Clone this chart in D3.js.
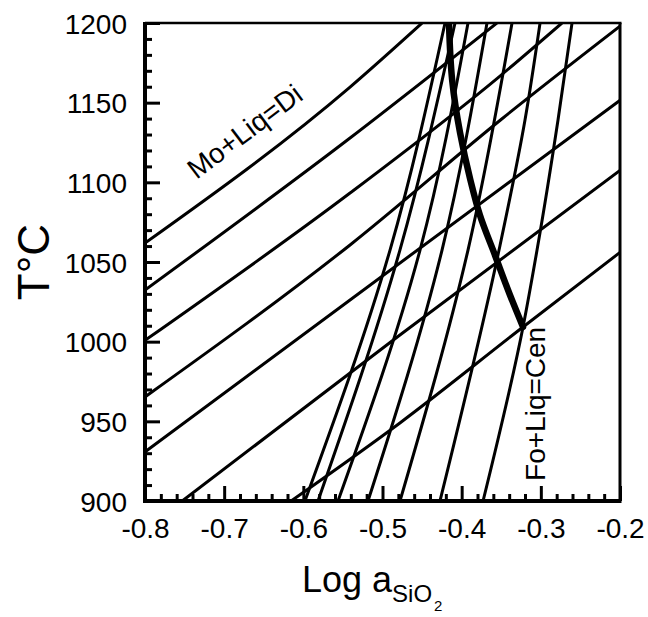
<!DOCTYPE html>
<html>
<head>
<meta charset="utf-8">
<script src="https://cdn.jsdelivr.net/npm/d3@7"></script>
<style>
  html, body { margin: 0; padding: 0; background: #fff; }
  svg { display: block; font-family: "Liberation Sans", Arial, Helvetica, sans-serif; }
</style>
</head>
<body>
<svg id="chart" width="648" height="617"></svg>
<script>
// ---------- data (log aSiO2, T °C) ----------
const xMajorTicks = [-0.8, -0.7, -0.6, -0.5, -0.4, -0.3, -0.2];
const yMajorTicks = [900, 950, 1000, 1050, 1100, 1150, 1200];

// Mo+Liq=Di family (shallow lines)
const di1 = [[-0.8, 1061.9], [-0.541, 1159.8], [-0.45, 1200]];
const di2 = [[-0.8, 1032.4], [-0.541, 1127.8], [-0.3554, 1200]];
const di3 = [[-0.8, 1000.8], [-0.541, 1093.3], [-0.3516, 1166.7], [-0.2733, 1200]];
const di4 = [[-0.8, 965.3], [-0.541, 1060.7], [-0.3478, 1140.4], [-0.2, 1198]];
const di5 = [[-0.8, 930.8], [-0.541, 1026.2], [-0.2, 1151.5]];
const di6 = [[-0.753, 900], [-0.478, 1004.2], [-0.2, 1107.5]];
const di7 = [[-0.6155, 900], [-0.478, 949], [-0.3225, 1009.2], [-0.2, 1056]];

// Fo+Liq=Cen family (steep curves)
const cen1 = [[-0.598, 900], [-0.4905, 1057.5], [-0.421, 1200]];
const cen2 = [[-0.5815, 900], [-0.478, 1057.5], [-0.4084, 1200]];
const cen3 = [[-0.5562, 900], [-0.4526, 1057.5], [-0.392, 1200]];
const cen4 = [[-0.5183, 900], [-0.4248, 1057.5], [-0.368, 1200]];
const cen5 = [[-0.4779, 900], [-0.392, 1057.5], [-0.3364, 1200]];
const cen6 = [[-0.4274, 900], [-0.3528, 1057.5], [-0.32, 1139.1], [-0.301, 1200]];
const cen7 = [[-0.373, 900], [-0.3225, 1009.2], [-0.3048, 1057.5], [-0.2783, 1139.1], [-0.2606, 1200]];

// heavy univariant curve
const heavy = [[-0.416, 1200], [-0.412, 1164.2], [-0.402, 1131], [-0.389, 1101.5],
               [-0.377, 1079.5], [-0.358, 1054.4], [-0.339, 1029.3], [-0.3225, 1009.2]];

const diSeries = [di1, di2, di3, di4, di5, di6, di7];
const cenSeries = [cen1, cen2, cen3, cen4, cen5, cen6, cen7];

// ---------- layout ----------
const svg = d3.select("#chart");
const L = 145, R = 620, T = 23, B = 501;
const x = d3.scaleLinear().domain([-0.8, -0.2]).range([L, R]);
const y = d3.scaleLinear().domain([900, 1200]).range([B, T]);
const FONT = "28px";

svg.append("defs").append("clipPath").attr("id", "clip")
  .append("rect").attr("x", L).attr("y", T).attr("width", R - L).attr("height", B - T);

const lineX = d3.line().x(d => x(d[0])).y(d => y(d[1])).curve(d3.curveMonotoneX);
const lineY = d3.line().x(d => x(d[0])).y(d => y(d[1])).curve(d3.curveMonotoneY);

const plot = svg.append("g").attr("clip-path", "url(#clip)");
plot.selectAll("path.di").data(diSeries).join("path").attr("class", "di")
  .attr("d", lineX).attr("fill", "none").attr("stroke", "#000").attr("stroke-width", 3);
plot.selectAll("path.cen").data(cenSeries).join("path").attr("class", "cen")
  .attr("d", lineY).attr("fill", "none").attr("stroke", "#000").attr("stroke-width", 3);
plot.append("path").datum(heavy).attr("d", lineY).attr("fill", "none")
  .attr("stroke", "#000").attr("stroke-width", 6.5).attr("stroke-linecap", "round");

// ---------- axes ----------
const xMinor = d3.range(-0.8, -0.2001, 0.02).map(v => +v.toFixed(2)).filter(v => !xMajorTicks.includes(v));
const yMinor = d3.range(900, 1201, 10).filter(v => !yMajorTicks.includes(v));

const yAx = svg.append("g").attr("transform", `translate(${L},0)`)
  .call(d3.axisLeft(y).tickValues(yMajorTicks).tickSize(-15).tickPadding(18).tickFormat(d3.format("d")));
svg.append("g").attr("transform", `translate(${L},0)`)
  .call(d3.axisLeft(y).tickValues(yMinor).tickSize(-7).tickFormat(""));
const xAx = svg.append("g").attr("transform", `translate(0,${B})`)
  .call(d3.axisBottom(x).tickValues(xMajorTicks).tickSize(-15).tickPadding(17).tickFormat(d => d.toFixed(1)));
svg.append("g").attr("transform", `translate(0,${B})`)
  .call(d3.axisBottom(x).tickValues(xMinor).tickSize(-7).tickFormat(""));

svg.selectAll(".domain").remove();
svg.selectAll(".tick line").attr("stroke", "#000").attr("stroke-width", 3);
svg.selectAll(".tick text").attr("font-size", FONT).attr("fill", "#000")
  .attr("font-family", "'Liberation Sans', Arial, Helvetica, sans-serif");
yAx.selectAll(".tick text").attr("dy", "0.36em");

// frame
svg.append("line").attr("x1", L).attr("x2", L).attr("y1", T - 1).attr("y2", B + 2).attr("stroke", "#000").attr("stroke-width", 4);
svg.append("line").attr("x1", L - 2).attr("x2", R + 1.5).attr("y1", B).attr("y2", B).attr("stroke", "#000").attr("stroke-width", 4);
svg.append("line").attr("x1", L).attr("x2", R + 1.5).attr("y1", T).attr("y2", T).attr("stroke", "#000").attr("stroke-width", 2.5);
svg.append("line").attr("x1", R).attr("x2", R).attr("y1", T).attr("y2", B).attr("stroke", "#000").attr("stroke-width", 3);

// ---------- labels ----------
svg.append("text")
  .attr("transform", `translate(${x(-0.735)},${y(1101.5)}) rotate(-37)`)
  .attr("font-size", "28px").text("Mo+Liq=Di");
svg.append("text")
  .attr("transform", `translate(${x(-0.2947)},${y(912.6)}) rotate(-90)`)
  .attr("font-size", "28px").text("Fo+Liq=Cen");

svg.append("text")
  .attr("transform", "translate(49,262) rotate(-90)")
  .attr("text-anchor", "middle").attr("font-size", "44px").text("T°C");

const xt = svg.append("text").attr("x", 302).attr("y", 592).attr("font-size", "36px");
xt.append("tspan").text("Log a");
xt.append("tspan").attr("font-size", "24px").attr("dy", 10).text("SiO");
xt.append("tspan").attr("font-size", "15px").attr("dy", 9).attr("dx", 2).text("2");
</script>
</body>
</html>
